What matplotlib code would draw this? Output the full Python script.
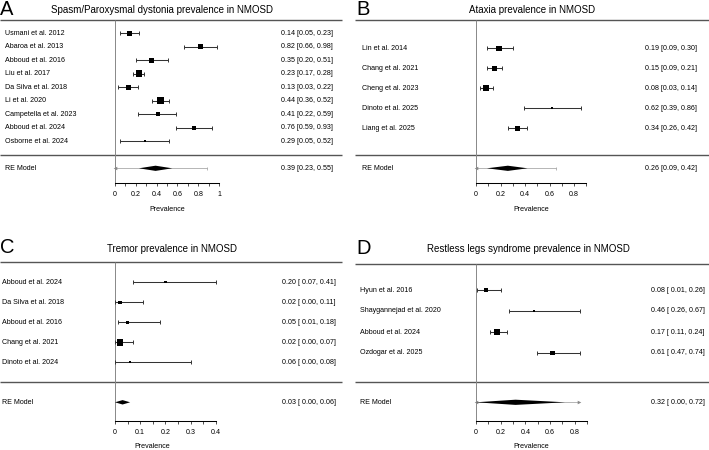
import matplotlib
matplotlib.use("Agg")  # headless

import matplotlib.pyplot as plt
import numpy as np

plt.rcParams["font.family"] = ["Liberation Sans", "DejaVu Sans"]

W, H = 709, 450

# ── data ────────────────────────────────────────────────────────────────

a_studies = ["Usmani et al. 2012", "Abaroa et al. 2013", "Abboud et al. 2016",
             "Liu et al. 2017", "Da Silva et al. 2018", "Li et al. 2020",
             "Campetella et al. 2023", "Abboud et al. 2024", "Osborne et al. 2024"]
a_est = [0.14, 0.82, 0.35, 0.23, 0.13, 0.44, 0.41, 0.76, 0.29]
a_lo = [0.05, 0.66, 0.20, 0.17, 0.03, 0.36, 0.22, 0.59, 0.05]
a_hi = [0.23, 0.98, 0.51, 0.28, 0.22, 0.52, 0.59, 0.93, 0.52]
a_wt = [5.0, 4.5, 4.5, 6.0, 5.0, 6.0, 3.5, 4.0, 2.0]
a_txt = ["0.14 [0.05, 0.23]", "0.82 [0.66, 0.98]", "0.35 [0.20, 0.51]",
         "0.23 [0.17, 0.28]", "0.13 [0.03, 0.22]", "0.44 [0.36, 0.52]",
         "0.41 [0.22, 0.59]", "0.76 [0.59, 0.93]", "0.29 [0.05, 0.52]"]
a_re = [0.39, 0.23, 0.55]
a_re_txt = "0.39 [0.23, 0.55]"
a_pi = [0.0, 0.88]

b_studies = ["Lin et al. 2014", "Chang et al. 2021", "Cheng et al. 2023",
             "Dinoto et al. 2025", "Liang et al. 2025"]
b_est = [0.19, 0.15, 0.08, 0.62, 0.34]
b_lo = [0.09, 0.09, 0.03, 0.39, 0.26]
b_hi = [0.30, 0.21, 0.14, 0.86, 0.42]
b_wt = [5.0, 5.0, 5.5, 2.0, 5.0]
b_txt = ["0.19 [0.09, 0.30]", "0.15 [0.09, 0.21]", "0.08 [0.03, 0.14]",
         "0.62 [0.39, 0.86]", "0.34 [0.26, 0.42]"]
b_re = [0.26, 0.09, 0.42]
b_re_txt = "0.26 [0.09, 0.42]"
b_pi = [0.0, 0.65]

c_studies = ["Abboud et al. 2024", "Da Silva et al. 2018", "Abboud et al. 2016",
             "Chang et al. 2021", "Dinoto et al. 2024"]
c_est = [0.20, 0.02, 0.05, 0.02, 0.06]
c_lo = [0.07, 0.00, 0.01, 0.00, 0.00]
c_hi = [0.40, 0.11, 0.18, 0.07, 0.30]
c_wt = [2.0, 3.0, 2.5, 6.0, 2.0]
c_txt = ["0.20 [ 0.07, 0.41]", "0.02 [ 0.00, 0.11]", "0.05 [ 0.01, 0.18]",
         "0.02 [ 0.00, 0.07]", "0.06 [ 0.00, 0.08]"]
c_re = [0.03, 0.00, 0.06]
c_re_txt = "0.03 [ 0.00, 0.06]"
c_pi = None

d_studies = ["Hyun et al. 2016", "Shaygannejad et al. 2020", "Abboud et al. 2024",
             "Ozdogar et al. 2025"]
d_est = [0.08, 0.47, 0.17, 0.62]
d_lo = [0.01, 0.27, 0.11, 0.49]
d_hi = [0.20, 0.84, 0.25, 0.84]
d_wt = [4.0, 2.0, 5.0, 4.0]
d_txt = ["0.08 [ 0.01, 0.26]", "0.46 [ 0.26, 0.67]", "0.17 [ 0.11, 0.24]",
         "0.61 [ 0.47, 0.74]"]
d_re = [0.32, 0.00, 0.72]
d_re_txt = "0.32 [ 0.00, 0.72]"
d_pi = [0.0, 0.83]

FS = 5.1
LINE = "#333333"


# ── one forest panel ────────────────────────────────────────────────────

def forest(fig, lay, studies, est, lo, hi, wt, txt, re, re_txt, pi, pi_arrows):
    pl, pt, pr, pb = lay["box"]
    zero, ppu = lay["zero"], lay["ppu"]
    ax = fig.add_axes([pl / W, 1 - pb / H, (pr - pl) / W, (pb - pt) / H])
    ax.set_xlim((pl - zero) / ppu, (pr - zero) / ppu)
    ax.set_ylim(pb, pt)

    def px(x):
        return (x - zero) / ppu

    est, lo, hi = np.array(est), np.array(lo), np.array(hi)
    ys = lay["row0"] + lay["dy"] * np.arange(len(studies))

    # frame lines
    ax.hlines([lay["top"], lay["sep"]], px(pl), px(lay["line_end"]),
              color="#555555", lw=1.0)
    ax.vlines(0, lay["top"], lay["axis"], color="#888888", lw=0.7)

    # studies
    ax.errorbar(est, ys, xerr=[est - lo, hi - est], fmt="none", ecolor=LINE,
                elinewidth=0.75, capsize=1.2, capthick=0.7, zorder=2)
    ax.scatter(est, ys, marker="s", s=(np.array(wt) * 0.8) ** 2,
               color="black", lw=0, zorder=3)
    for y, name, t in zip(ys, studies, txt):
        ax.text(px(lay["lab_x"]), y, name, ha="left", va="center",
                fontsize=FS, color="black")
        ax.text(px(lay["txt_x"]), y, t, ha="left", va="center",
                fontsize=FS, color="black")

    # summary
    ry = lay["re"]
    if pi is not None:
        ax.plot(pi, [ry, ry], color="#aaaaaa", lw=0.6, zorder=1)
        for end, arrow, mk in zip(pi, pi_arrows, ["<", ">"]):
            if arrow:
                ax.plot(end, ry, marker=mk, ms=2.6, color="#888888", mew=0, zorder=1)
            else:
                ax.vlines(end, ry - 1.5, ry + 1.5, color="#aaaaaa", lw=0.6)
    h = lay["dh"]
    ax.fill([re[1], re[0], re[2], re[0]], [ry, ry - h, ry, ry + h],
            color="black", lw=0, zorder=3)
    ax.text(px(lay["lab_x"]), ry, "RE Model", ha="left", va="center", fontsize=FS)
    ax.text(px(lay["txt_x"]), ry, re_txt, ha="left", va="center", fontsize=FS)

    # x axis
    for s in ["top", "left", "right"]:
        ax.spines[s].set_visible(False)
    ax.spines["bottom"].set_position(("data", lay["axis"]))
    ax.spines["bottom"].set_bounds(0, lay["xmax"])
    ax.spines["bottom"].set_linewidth(0.75)
    ax.set_yticks([])
    ax.set_xticks(lay["major"])
    ax.set_xticklabels(lay["labels"])
    ax.set_xticks(lay["minor"], minor=True)
    ax.tick_params(axis="x", which="both", length=2.4, width=0.6, pad=3.4,
                   labelsize=FS, color=LINE)
    ax.text(lay["xlab_x"], lay["axis"] + 26, "Prevalence", ha="center",
            va="center", fontsize=FS)

    # titles
    ax.text(px(lay["title_x"]), lay["title_y"], lay["title"], ha="center",
            va="center", fontsize=7.0)
    ax.text(px(lay["letter"][0]), lay["letter"][1], lay["letter"][2],
            ha="left", va="baseline", fontsize=14.5)
    ax.patch.set_alpha(0)
    return ax


fig = plt.figure(figsize=(W / 100, H / 100), dpi=100, facecolor="white")

lay_a = dict(box=(0, 0, 345, 225), zero=115, ppu=104, line_end=342,
             top=20, row0=33.3, dy=13.5, sep=155, re=168.3, axis=183.3, dh=2.6,
             xmax=1.0, major=[0, 0.2, 0.4, 0.6, 0.8, 1.0],
             labels=["0", "0.2", "0.4", "0.6", "0.8", "1"],
             minor=[0.1, 0.3, 0.5, 0.7, 0.9], xlab_x=0.5,
             lab_x=5, txt_x=281, title="Spasm/Paroxysmal dystonia prevalence in NMOSD",
             title_x=162, title_y=10, letter=(0, 15, "A"))
lay_b = dict(box=(355, 0, 709, 225), zero=476, ppu=122.5, line_end=709,
             top=20, row0=48.3, dy=20, sep=155, re=168.3, axis=183.3, dh=2.6,
             xmax=0.9, major=[0, 0.2, 0.4, 0.6, 0.8],
             labels=["0", "0.2", "0.4", "0.6", "0.8"],
             minor=[0.1, 0.3, 0.5, 0.7, 0.9], xlab_x=0.45,
             lab_x=361.5, txt_x=645, title="Ataxia prevalence in NMOSD",
             title_x=532, title_y=10, letter=(356, 15, "B"))
lay_c = dict(box=(0, 225, 345, 450), zero=115, ppu=252, line_end=342,
             top=262.3, row0=282.3, dy=20, sep=382.3, re=402.3, axis=421, dh=2.2,
             xmax=0.4, major=[0, 0.1, 0.2, 0.3, 0.4],
             labels=["0", "0.1", "0.2", "0.3", "0.4"],
             minor=[0.05, 0.15, 0.25, 0.35], xlab_x=0.147,
             lab_x=2, txt_x=281.5, title="Tremor prevalence in NMOSD",
             title_x=172, title_y=249, letter=(0, 253, "C"))
lay_d = dict(box=(355, 225, 709, 450), zero=476, ppu=123.5, line_end=709,
             top=264.3, row0=290, dy=21, sep=382.3, re=402.3, axis=421, dh=2.6,
             xmax=0.9, major=[0, 0.2, 0.4, 0.6, 0.8],
             labels=["0", "0.2", "0.4", "0.6", "0.8"],
             minor=[0.1, 0.3, 0.5, 0.7, 0.9], xlab_x=0.45,
             lab_x=360.5, txt_x=651, title="Restless legs syndrome prevalence in NMOSD",
             title_x=528.5, title_y=249, letter=(356, 253.5, "D"))

forest(fig, lay_a, a_studies, a_est, a_lo, a_hi, a_wt, a_txt, a_re, a_re_txt,
       a_pi, (True, False))
forest(fig, lay_b, b_studies, b_est, b_lo, b_hi, b_wt, b_txt, b_re, b_re_txt,
       b_pi, (True, False))
forest(fig, lay_c, c_studies, c_est, c_lo, c_hi, c_wt, c_txt, c_re, c_re_txt,
       c_pi, (False, False))
forest(fig, lay_d, d_studies, d_est, d_lo, d_hi, d_wt, d_txt, d_re, d_re_txt,
       d_pi, (True, True))

fig.savefig("out.png", dpi=100, facecolor="white")
